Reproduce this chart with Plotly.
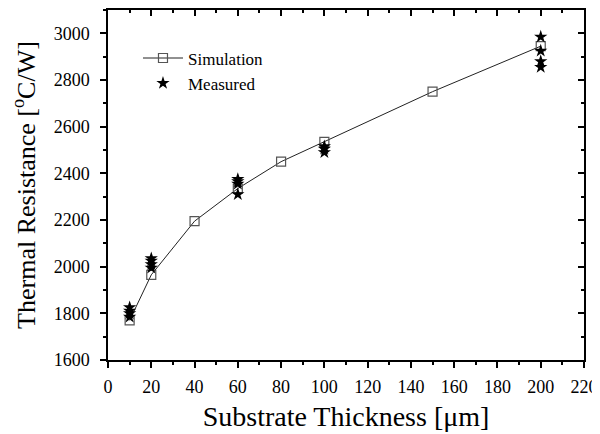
import plotly.graph_objects as go

sim_x = [10, 20, 40, 60, 80, 100, 150, 200]
sim_y = [1770, 1965, 2195, 2335, 2450, 2535, 2750, 2945]

meas_x = [10, 10, 10, 10, 20, 20, 20, 20, 60, 60, 60, 60, 100, 100, 100, 200, 200, 200, 200]
meas_y = [1785, 1800, 1810, 1825, 1995, 2010, 2025, 2035, 2310, 2355, 2365, 2375,
          2490, 2505, 2515, 2855, 2880, 2925, 2985]

x_ticks = list(range(0, 221, 20))
y_ticks = list(range(1600, 3001, 200))

FONT = "Liberation Serif"
TICKFONT = dict(family=FONT, size=18, color="black")

fig = go.Figure()
fig.add_trace(go.Scatter(
    x=sim_x, y=sim_y, mode="lines+markers", name="Simulation",
    line=dict(color="#222222", width=1),
    marker=dict(symbol="square-open", size=9, color="#555555", line=dict(width=1.2)),
))
fig.add_trace(go.Scatter(
    x=meas_x, y=meas_y, mode="markers", name="Measured",
    marker=dict(symbol="star", size=10, color="black"),
))

axis_common = dict(
    showline=True, linecolor="black", linewidth=1.5, showgrid=False, zeroline=False,
    ticklen=6, tickwidth=1.5, tickcolor="black", automargin=False, tickfont=TICKFONT,
)
# page body has an 8px margin, so the figure is sized 8px smaller
fig.update_layout(
    width=592, height=426,
    margin=dict(l=100, r=16, t=2, b=74),
    plot_bgcolor="white", paper_bgcolor="white",
    font=dict(family=FONT, color="black", size=18),
    showlegend=True,
    legend=dict(x=0.063, y=0.913, xanchor="left", yanchor="top",
                bgcolor="rgba(0,0,0,0)", font=dict(family=FONT, size=17, color="black"),
                itemwidth=40, tracegroupgap=0),
    xaxis=dict(range=[0, 220], tickvals=x_ticks, ticks="outside", ticklabelstandoff=4,
               minor=dict(dtick=10, ticklen=3, tickwidth=1.5, tickcolor="black", ticks="outside"),
               title=dict(text="Substrate Thickness [μm]", font=dict(family=FONT, size=28, color="black"), standoff=10),
               **axis_common),
    yaxis=dict(range=[1600, 3100], tickvals=y_ticks, ticks="outside", ticklabelstandoff=7,
               minor=dict(dtick=100, ticklen=3, tickwidth=1.5, tickcolor="black", ticks="outside"),
               title=dict(text="Thermal Resistance [<sup>o</sup>C/W]", font=dict(family=FONT, size=26, color="black"), standoff=20),
               **axis_common),
    xaxis2=dict(range=[0, 220], tickvals=x_ticks, ticks="inside", overlaying="x", side="top",
                showticklabels=False,
                minor=dict(dtick=10, ticklen=3, tickwidth=1.5, tickcolor="black", ticks="inside"),
                **axis_common),
    yaxis2=dict(range=[1600, 3100], tickvals=y_ticks, ticks="inside", overlaying="y", side="right",
                showticklabels=False,
                minor=dict(dtick=100, ticklen=3, tickwidth=1.5, tickcolor="black", ticks="inside"),
                **axis_common),
)
# dummy trace to activate the mirrored axes
fig.add_trace(go.Scatter(x=[None], y=[None], xaxis="x2", yaxis="y2", showlegend=False, hoverinfo="skip"))

fig.write_html("out.html")
